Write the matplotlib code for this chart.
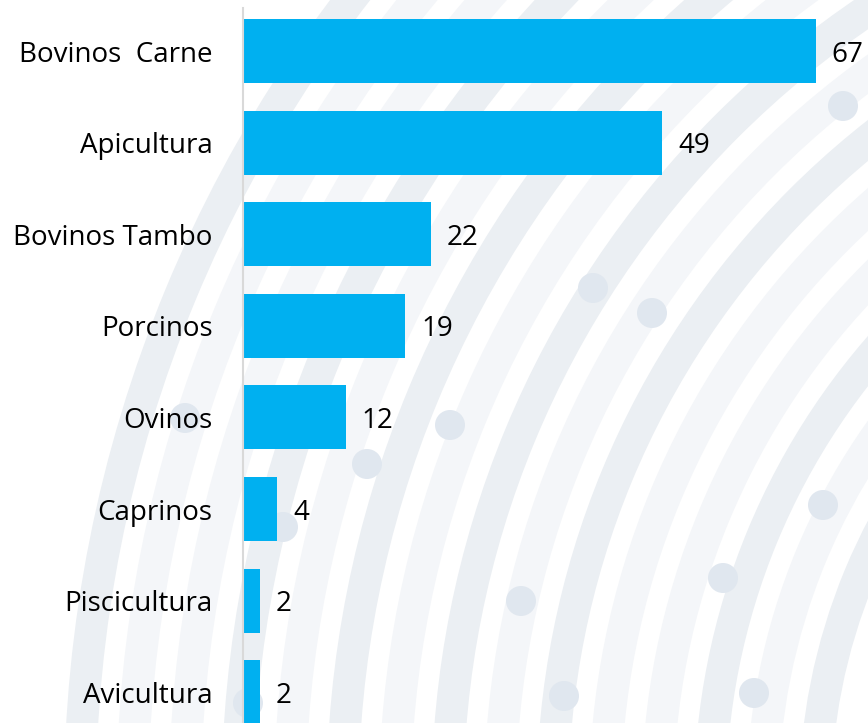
import matplotlib
matplotlib.use("Agg")
import matplotlib.pyplot as plt
from matplotlib.patches import Wedge, Circle

# data
categorias = ["Bovinos  Carne", "Apicultura", "Bovinos Tambo", "Porcinos",
              "Ovinos", "Caprinos", "Piscicultura", "Avicultura"]
valores = [67, 49, 22, 19, 12, 4, 2, 2]

W, H = 868, 723
fig = plt.figure(figsize=(W / 100, H / 100), dpi=100)
fig.patch.set_facecolor("white")

# decorative background arcs (pixel coordinates)
bg = fig.add_axes([0, 0, 1, 1], zorder=0)
bg.set_xlim(0, W)
bg.set_ylim(H, 0)
bg.axis("off")
cx, cy = 1400, 800
light, dark = "#F4F6F9", "#EBEFF3"
band_cols = [dark, light, dark, light, light, dark, light, dark, light, dark,
             light, dark, light, light, dark]
r0 = 585
for k, col in enumerate(band_cols):
    r = r0 + 52.5 * k
    bg.add_patch(Wedge((cx, cy), r + 16, 0, 360, width=32, color=col, lw=0))
dots = [(593, 288), (652, 313), (843, 106), (450, 425), (367, 464), (283, 527),
        (185, 418), (521, 601), (723, 578), (823, 505), (564, 696), (754, 693),
        (248, 703)]
for (dx, dy) in dots:
    bg.add_patch(Circle((dx, dy), 15, color="#E0E7EF", lw=0))

# main chart
left = 243 / W
ax = fig.add_axes([left, 0, 1 - left, 1], zorder=1)
ax.patch.set_alpha(0)
ypos = list(range(len(categorias)))
bars = ax.barh(ypos, valores, height=0.70, color="#00B0F0")
ax.set_xlim(0, (W - 243) / 8.55)
ax.set_ylim(7.336, -0.557)
ax.set_yticks(ypos)
ax.set_yticklabels(categorias)
ax.set_xticks([])
ax.tick_params(axis="y", length=0, pad=22, labelsize=20, labelcolor="#000000")
for lab in ax.get_yticklabels():
    lab.set_fontfamily("Open Sans")
for s in ["top", "right", "bottom"]:
    ax.spines[s].set_visible(False)
ax.spines["left"].set_color("#D9D9D9")
ax.spines["left"].set_linewidth(1.5)
ax.spines["left"].set_bounds(-0.47, 7.336)

for y, v in zip(ypos, valores):
    ax.annotate(str(v), xy=(v, y), xytext=(11.5, 0), textcoords="offset points",
                ha="left", va="center_baseline", fontsize=20,
                fontfamily="Open Sans", color="#000000")

fig.savefig("out.png", dpi=100)
